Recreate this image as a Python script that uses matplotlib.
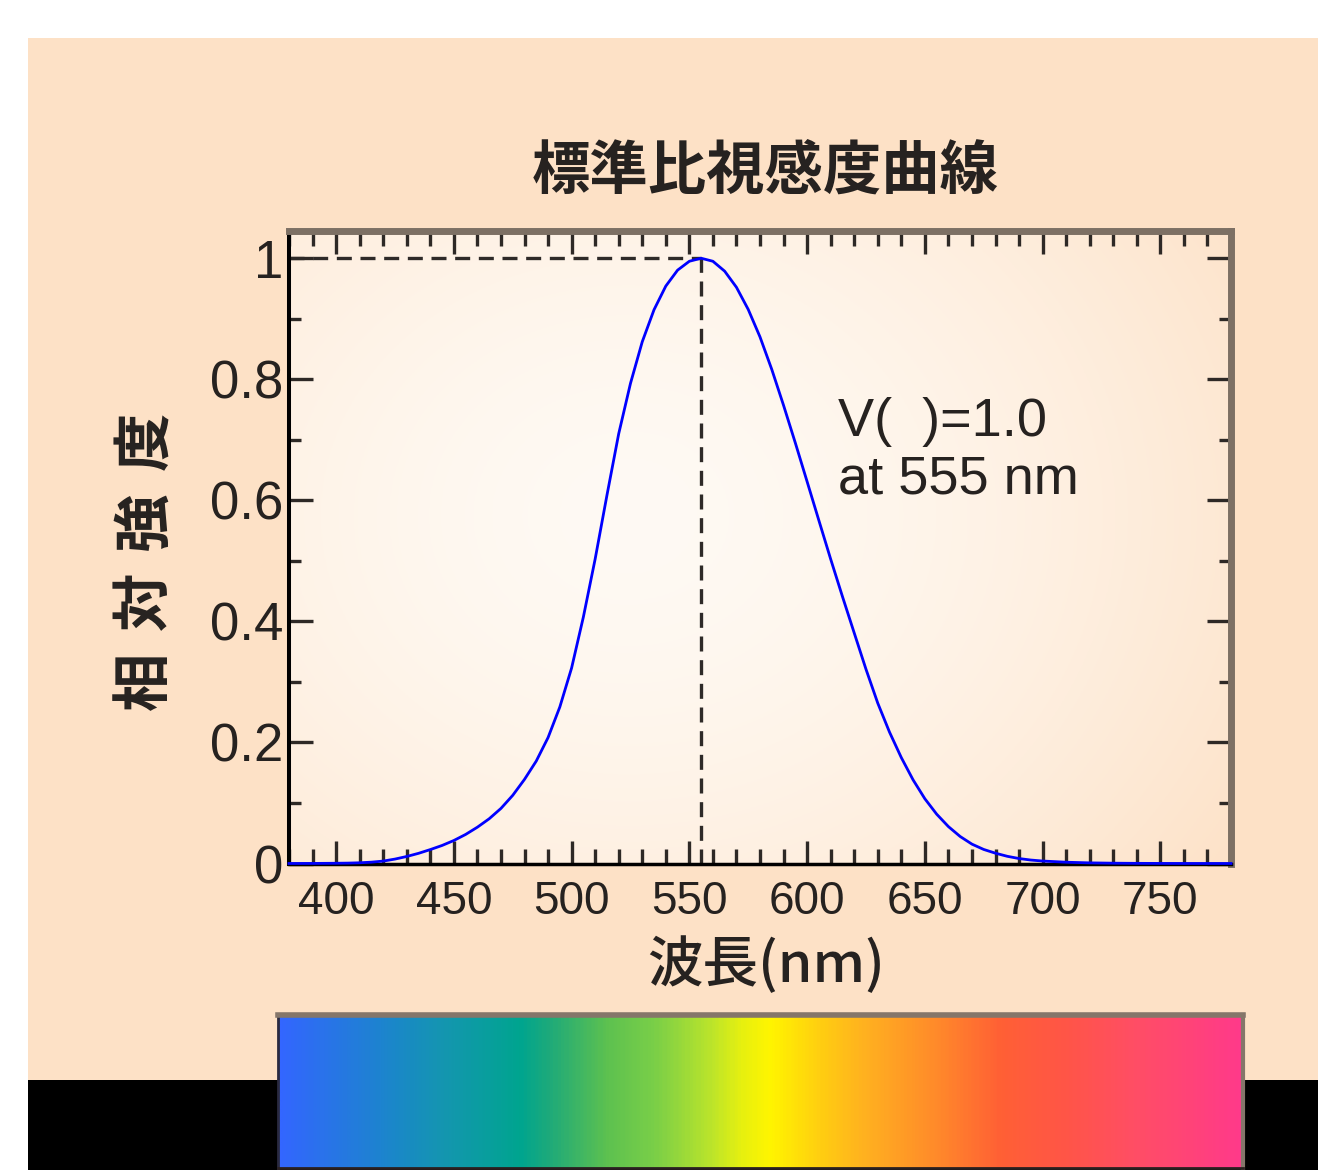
import numpy as np
import matplotlib.pyplot as plt
from matplotlib.colors import LinearSegmentedColormap, to_rgb
from matplotlib.patches import Rectangle

# ============================================
# DATA
# ============================================

wavelength = [380, 390, 400, 405, 410, 415, 420, 425, 430, 435, 440, 445,
              450, 455, 460, 465, 470, 475, 480, 485, 490, 495, 500, 505,
              510, 515, 520, 525, 530, 535, 540, 545, 550, 555, 560, 565,
              570, 575, 580, 585, 590, 595, 600, 605, 610, 615, 620, 625,
              630, 635, 640, 645, 650, 655, 660, 665, 670, 675, 680, 685,
              690, 695, 700, 710, 720, 730, 740, 750, 760, 770, 780]

v_lambda = [0.00004, 0.00012, 0.0004, 0.00064, 0.0012, 0.0022, 0.004, 0.0073,
            0.0116, 0.0168, 0.023, 0.0298, 0.038, 0.048, 0.06, 0.0739, 0.091,
            0.1126, 0.139, 0.1693, 0.208, 0.2586, 0.323, 0.4073, 0.503, 0.6082,
            0.71, 0.7932, 0.862, 0.9149, 0.954, 0.9803, 0.995, 1.0, 0.995,
            0.9786, 0.952, 0.9154, 0.87, 0.8163, 0.757, 0.6949, 0.631, 0.5668,
            0.503, 0.4412, 0.381, 0.321, 0.265, 0.217, 0.175, 0.1382, 0.107,
            0.0816, 0.061, 0.0446, 0.032, 0.0232, 0.017, 0.0119, 0.0082,
            0.0057, 0.0041, 0.0021, 0.00105, 0.00052, 0.00025, 0.00012,
            0.00006, 0.00003, 0.000015]

peak_wavelength = 555
peak_value = 1.0

x_ticks = [400, 450, 500, 550, 600, 650, 700, 750]
y_ticks = [0, 0.2, 0.4, 0.6, 0.8, 1.0]
y_tick_labels = ["0", "0.2", "0.4", "0.6", "0.8", "1"]

title_text = "標準比視感度曲線"
x_label_text = "波長(nm)"
y_label_chars = ["相", "対", "強", "度"]
note_lines = ["V(  )=1.0", "at 555 nm"]

spectrum_stops = [0.0, 0.12, 0.17, 0.25, 0.28, 0.34, 0.39, 0.45, 0.48,
                  0.51, 0.56, 0.61, 0.68, 0.75, 0.82, 0.89, 1.0]
spectrum_colors = ["#3366ff", "#1a88c8", "#1496b0", "#00a58f", "#1eaa7a",
                   "#5dc150", "#7acf48", "#bde52a", "#e6f010", "#fff500",
                   "#ffd010", "#ffb020", "#ff8c2a", "#ff6035", "#ff5548",
                   "#ff4e65", "#ff3a8a"]

# ============================================
# FIGURE + BACKGROUND
# ============================================

W, H = 1336, 1170
fig = plt.figure(figsize=(W / 100, H / 100), dpi=100, facecolor="white")

peach = "#fde1c6"

fig.patches.append(Rectangle((28 / W, 90 / H), 1290 / W, 1042 / H,
                             transform=fig.transFigure, facecolor=peach,
                             edgecolor="none", zorder=-5))
fig.patches.append(Rectangle((28 / W, 0), 1290 / W, 90 / H,
                             transform=fig.transFigure, facecolor="black",
                             edgecolor="none", zorder=-5))

cjk = ["Noto Sans CJK JP", "DejaVu Sans"]
latin = ["Liberation Sans", "DejaVu Sans"]
text_color = "#262220"

# ============================================
# MAIN AXES
# ============================================

ax = fig.add_axes([289 / W, 1 - 863.5 / H, 942 / W, 632.5 / H])
ax.set_xlim(380, 780)
ax.set_ylim(0, 1.045)

# soft radial glow inside the plot frame
gx, gy = np.meshgrid(np.linspace(0, 1, 300), np.linspace(0, 1, 300))
r = np.sqrt(((gx - 0.36) / 0.8) ** 2 + ((gy - 0.55) / 1.0) ** 2)
r = np.clip(r, 0, 1) ** 1.6
c0 = np.array(to_rgb("#fffaf4"))
c1 = np.array(to_rgb("#fde1c6"))
glow = c0[None, None, :] + (c1 - c0)[None, None, :] * r[:, :, None]
ax.imshow(glow, extent=[380, 780, 0, 1.045], aspect="auto",
          origin="lower", zorder=0)

# dashed guides
ax.plot([380, peak_wavelength], [peak_value, peak_value],
        color="#2e2a28", linewidth=2.4, dashes=(4.5, 2.6), zorder=2)
ax.plot([peak_wavelength, peak_wavelength], [0, peak_value],
        color="#2e2a28", linewidth=2.4, dashes=(4.5, 2.6), zorder=2)

# sensitivity curve
ax.plot(wavelength, v_lambda, color="#0000ff", linewidth=2,
        clip_on=False, zorder=4)

# spines
ax.spines["left"].set_color("black")
ax.spines["left"].set_linewidth(2.9)
ax.spines["bottom"].set_color("black")
ax.spines["bottom"].set_linewidth(2.5)
ax.spines["top"].set_color("#7d7064")
ax.spines["top"].set_linewidth(5)
ax.spines["right"].set_color("#7d7064")
ax.spines["right"].set_linewidth(5)

# ticks
ax.set_xticks(x_ticks)
ax.set_xticks(np.arange(380, 781, 10), minor=True)
ax.set_yticks(y_ticks)
ax.set_yticklabels(y_tick_labels)
ax.set_yticks(np.arange(0, 1.01, 0.1), minor=True)

ax.tick_params(axis="both", which="both", direction="in",
               top=True, right=True, color="#2e2926", width=2.4)
ax.tick_params(axis="x", which="major", length=16.5, pad=12,
               labelsize=33, labelcolor=text_color)
ax.tick_params(axis="x", which="minor", length=10.5)
ax.tick_params(axis="y", which="major", length=17, pad=4,
               labelsize=38, labelcolor=text_color)
ax.tick_params(axis="y", which="minor", length=8.6)

for lab in ax.get_xticklabels() + ax.get_yticklabels():
    lab.set_family(latin)

# annotation
ax.text(613, 0.706, note_lines[0], fontsize=39, family=latin,
        color=text_color, ha="left", va="baseline", zorder=5)
ax.text(613, 0.612, note_lines[1], fontsize=39, family=latin,
        color=text_color, ha="left", va="baseline", zorder=5)

# ============================================
# TITLE + AXIS LABELS
# ============================================

fig.text(765 / W, 1 - 172 / H, title_text, fontsize=42, fontweight="bold",
         family=cjk, color=text_color, ha="center", va="center")

fig.text(766 / W, 1 - 965 / H, x_label_text, fontsize=40, fontweight="medium",
         family=cjk, color=text_color, ha="center", va="center")

label_center = 561
label_pitch = 80
for i, ch in enumerate(y_label_chars):
    y_px = label_center + (1.5 - i) * label_pitch
    fig.text(145 / W, 1 - y_px / H, ch, fontsize=42, fontweight="bold",
             family=cjk, color=text_color, rotation=90,
             ha="center", va="center")

# ============================================
# SPECTRUM BAR
# ============================================

spec_cmap = LinearSegmentedColormap.from_list(
    "spectrum", list(zip(spectrum_stops, spectrum_colors))
)

bar = fig.add_axes([278 / W, 2 / H, 965 / W, 153 / H])
bar.imshow(np.linspace(0, 1, 600)[None, :], cmap=spec_cmap,
           aspect="auto", extent=[0, 1, 0, 1])
bar.set_xticks([])
bar.set_yticks([])
bar.spines["top"].set_color("#85766a")
bar.spines["top"].set_linewidth(4)
bar.spines["right"].set_color("#85766a")
bar.spines["right"].set_linewidth(3)
bar.spines["left"].set_color("#2a2a40")
bar.spines["left"].set_linewidth(2)
bar.spines["bottom"].set_color("#2a2020")
bar.spines["bottom"].set_linewidth(2)

plt.savefig("out.png", dpi=100, facecolor=fig.get_facecolor())
